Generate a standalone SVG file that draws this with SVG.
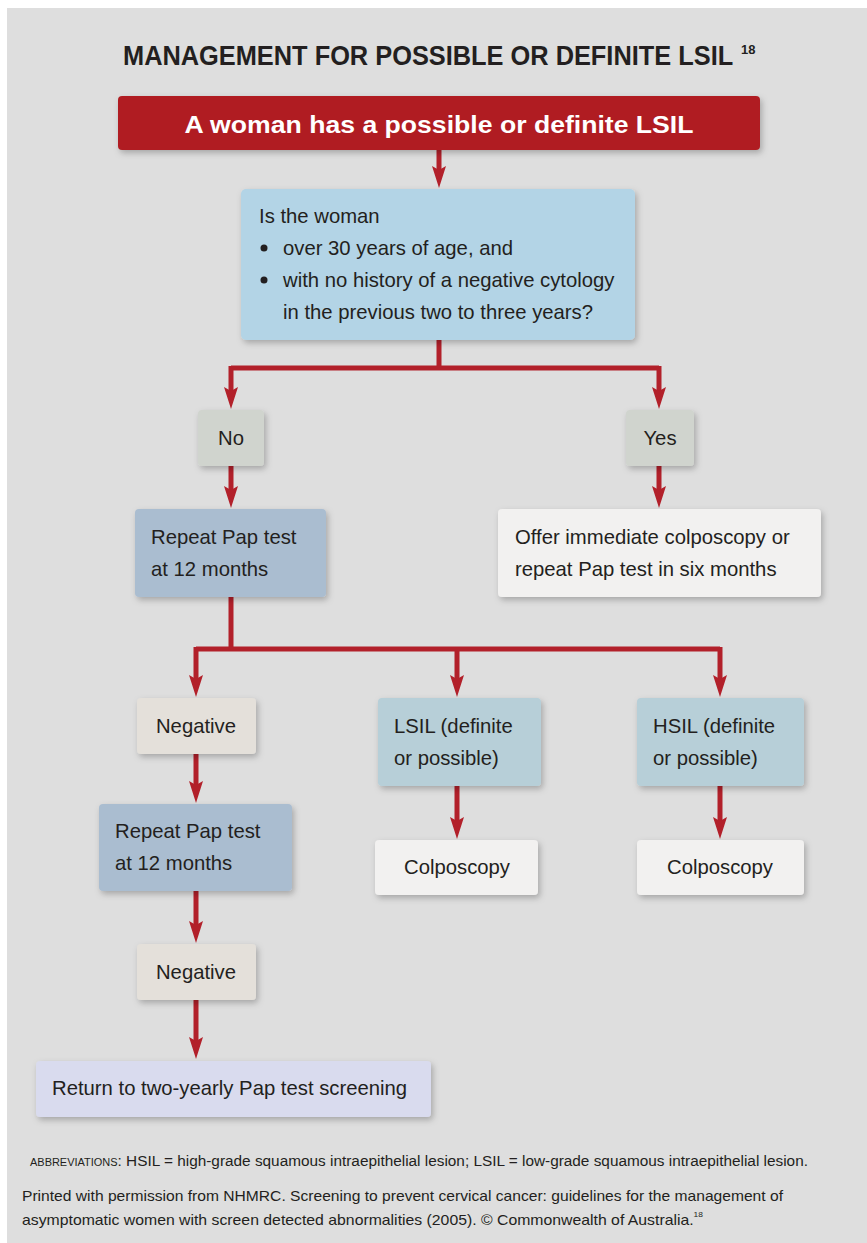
<svg xmlns="http://www.w3.org/2000/svg" width="867" height="1243" viewBox="0 0 867 1243">
<defs>
<filter id="sh" x="-20%" y="-20%" width="140%" height="150%">
<feDropShadow dx="2" dy="3" stdDeviation="3" flood-color="#000" flood-opacity="0.25"/>
</filter>
<marker id="ah" markerUnits="userSpaceOnUse" viewBox="0 -8 24 16" refX="10" refY="0" markerWidth="24" markerHeight="16" orient="auto">
<path d="M0,-7 L22,0 L0,7 L4,0 Z" fill="#b2202a"/>
</marker>
<style>
.t{font-family:"Liberation Sans",Arial,sans-serif;font-size:20.3px;fill:#231f20}
.c{stroke:#b2202a;stroke-width:5;fill:none}
.b{filter:url(#sh)}
</style>
</defs>
<rect x="0" y="0" width="867" height="1243" fill="#ffffff"/>
<rect x="7" y="8" width="860" height="1235" fill="#dedede"/>
<text transform="translate(123,65) scale(0.94,1)" x="0" y="0" font-family="'Liberation Sans',Arial,sans-serif" font-weight="bold" font-size="27" fill="#231f20">MANAGEMENT FOR POSSIBLE OR DEFINITE LSIL</text>
<text x="741" y="54" font-family="'Liberation Sans',Arial,sans-serif" font-weight="bold" font-size="13" fill="#231f20">18</text>
<g id="connectors">
<path class="c" d="M439,150 V176" marker-end="url(#ah)"/>
<path class="c" d="M439,340 V368 M231,368 H659"/>
<path class="c" d="M231,366 V397" marker-end="url(#ah)"/>
<path class="c" d="M659,366 V397" marker-end="url(#ah)"/>
<path class="c" d="M231,466 V496" marker-end="url(#ah)"/>
<path class="c" d="M659,466 V496" marker-end="url(#ah)"/>
<path class="c" d="M231,597 V649 M196,649 H720"/>
<path class="c" d="M196,647 V685" marker-end="url(#ah)"/>
<path class="c" d="M457,647 V685" marker-end="url(#ah)"/>
<path class="c" d="M720,647 V685" marker-end="url(#ah)"/>
<path class="c" d="M457,786 V827" marker-end="url(#ah)"/>
<path class="c" d="M720,786 V827" marker-end="url(#ah)"/>
<path class="c" d="M196,754 V791" marker-end="url(#ah)"/>
<path class="c" d="M196,891 V931" marker-end="url(#ah)"/>
<path class="c" d="M196,1000 V1047" marker-end="url(#ah)"/>
</g>
<g id="start">
<rect class="b" x="118" y="96" width="642" height="54" rx="4" fill="#b01f24"/>
<text x="439" y="133" text-anchor="middle" font-family="'Liberation Sans',Arial,sans-serif" font-weight="bold" font-size="24" fill="#ffffff" textLength="509" lengthAdjust="spacingAndGlyphs">A woman has a possible or definite LSIL</text>
</g>
<g id="question">
<rect class="b" x="241" y="189" width="394" height="151" rx="5" fill="#b3d4e6"/>
<text class="t" x="259" y="223">Is the woman</text>
<circle cx="264" cy="248" r="3.5" fill="#231f20"/>
<text class="t" x="283" y="255">over 30 years of age, and</text>
<circle cx="264" cy="280" r="3.5" fill="#231f20"/>
<text class="t" x="283" y="287">with no history of a negative cytology</text>
<text class="t" x="283" y="319">in the previous two to three years?</text>
</g>
<g id="no">
<rect class="b" x="198" y="410" width="66" height="56" rx="4" fill="#d0d4ce"/>
<text class="t" x="231" y="445" text-anchor="middle">No</text>
</g>
<g id="yes">
<rect class="b" x="626" y="410" width="68" height="56" rx="4" fill="#d0d4ce"/>
<text class="t" x="660" y="445" text-anchor="middle">Yes</text>
</g>
<g id="repeat1">
<rect class="b" x="135" y="509" width="191" height="88" rx="4" fill="#aabdd0"/>
<text class="t" x="151" y="544">Repeat Pap test</text>
<text class="t" x="151" y="576">at 12 months</text>
</g>
<g id="offer">
<rect class="b" x="498" y="509" width="323" height="88" rx="4" fill="#f2f1f0"/>
<text class="t" x="515" y="544">Offer immediate colposcopy or</text>
<text class="t" x="515" y="576">repeat Pap test in six months</text>
</g>
<g id="negative1">
<rect class="b" x="137" y="698" width="119" height="56" rx="4" fill="#e4e0da"/>
<text class="t" x="196" y="733" text-anchor="middle">Negative</text>
</g>
<g id="lsil">
<rect class="b" x="378" y="698" width="163" height="88" rx="4" fill="#b7cfd8"/>
<text class="t" x="394" y="733">LSIL (definite</text>
<text class="t" x="394" y="765">or possible)</text>
</g>
<g id="hsil">
<rect class="b" x="637" y="698" width="167" height="88" rx="4" fill="#b7cfd8"/>
<text class="t" x="653" y="733">HSIL (definite</text>
<text class="t" x="653" y="765">or possible)</text>
</g>
<g id="colpo1">
<rect class="b" x="375" y="840" width="163" height="55" rx="4" fill="#f2f1f0"/>
<text class="t" x="457" y="874" text-anchor="middle">Colposcopy</text>
</g>
<g id="colpo2">
<rect class="b" x="637" y="840" width="167" height="55" rx="4" fill="#f2f1f0"/>
<text class="t" x="720" y="874" text-anchor="middle">Colposcopy</text>
</g>
<g id="repeat2">
<rect class="b" x="99" y="804" width="193" height="87" rx="4" fill="#aabdd0"/>
<text class="t" x="115" y="838">Repeat Pap test</text>
<text class="t" x="115" y="870">at 12 months</text>
</g>
<g id="negative2">
<rect class="b" x="137" y="944" width="119" height="56" rx="4" fill="#e4e0da"/>
<text class="t" x="196" y="979" text-anchor="middle">Negative</text>
</g>
<g id="return">
<rect class="b" x="36" y="1061" width="395" height="56" rx="4" fill="#d9dbee"/>
<text class="t" x="52" y="1095">Return to two-yearly Pap test screening</text>
</g>
<g font-family="'Liberation Sans',Arial,sans-serif" fill="#231f20">
<text x="30" y="1166" font-size="14" textLength="778" lengthAdjust="spacingAndGlyphs"><tspan font-size="10">ABBREVIATIONS</tspan>: HSIL = high-grade squamous intraepithelial lesion; LSIL = low-grade squamous intraepithelial lesion.</text>
<text x="22" y="1201" font-size="15" textLength="761" lengthAdjust="spacingAndGlyphs">Printed with permission from NHMRC. Screening to prevent cervical cancer: guidelines for the management of</text>
<text x="22" y="1225" font-size="15" textLength="681" lengthAdjust="spacingAndGlyphs">asymptomatic women with screen detected abnormalities (2005). © Commonwealth of Australia.<tspan font-size="8" dy="-8">18</tspan></text>
</g>
</svg>
